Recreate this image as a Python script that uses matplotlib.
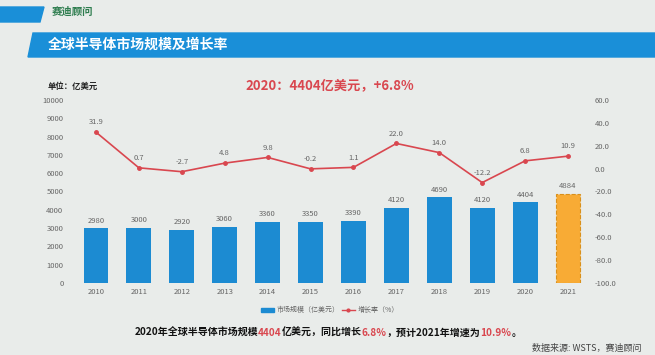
import matplotlib
matplotlib.use('Agg')
import matplotlib.pyplot as plt
from matplotlib.patches import Polygon, Rectangle
from matplotlib.lines import Line2D
from matplotlib.patches import Patch

plt.rcParams['font.family'] = ['Noto Sans CJK SC', 'DejaVu Sans']

years = ['2010', '2011', '2012', '2013', '2014', '2015', '2016',
         '2017', '2018', '2019', '2020', '2021']
market = [2980, 3000, 2920, 3060, 3360, 3350, 3390, 4120, 4690, 4120, 4404, 4884]
growth = [31.9, 0.7, -2.7, 4.8, 9.8, -0.2, 1.1, 22.0, 14.0, -12.2, 6.8, 10.9]

BG = '#e9ecea'
BLUE = '#1c8bd2'
ORANGE = '#f8ab35'
RED = '#d9474f'
GRAY = '#666666'

fig = plt.figure(figsize=(6.55, 3.55), dpi=100, facecolor=BG)

# header decorations
fig.patches.append(Polygon([(0, 1 - 22 / 355), (0, 1 - 7 / 355), (44 / 655, 1 - 7 / 355),
                            (40 / 655, 1 - 22 / 355)],
                           closed=True, transform=fig.transFigure, color='#1a8fd8', zorder=0))
fig.patches.append(Polygon([(28 / 655, 1 - 57 / 355), (33 / 655, 1 - 33 / 355),
                            (1, 1 - 33 / 355), (1, 1 - 57 / 355)],
                           closed=True, transform=fig.transFigure, color='#1a8fd8', zorder=0))
fig.text(52 / 655, 1 - 12 / 355, '赛迪顾问', color='#2e7d4f', fontsize=7.5,
         fontweight='bold', va='center', ha='left')
fig.text(48 / 655, 1 - 45 / 355, '全球半导体市场规模及增长率', color='white', fontsize=10,
         fontweight='bold', va='center', ha='left')
fig.text(330 / 655, 1 - 85 / 355, '2020：4404亿美元，+6.8%', color=RED, fontsize=9.5,
         fontweight='bold', va='center', ha='center')
fig.text(48 / 655, 1 - 86 / 355, '单位：亿美元', color='#222222', fontsize=6,
         fontweight='bold', va='center', ha='left')

ax = fig.add_axes([74.5 / 655, 1 - 283 / 355, 515 / 655, 183 / 355])
ax.set_facecolor('none')
x = list(range(len(years)))
colors = [BLUE] * (len(years) - 1) + [ORANGE]
bars = ax.bar(x, market, width=0.58, color=colors, zorder=2)
bars[-1].set_edgecolor('#d9901a')
bars[-1].set_linestyle('--')
bars[-1].set_linewidth(0.8)
for xi, v in zip(x, market):
    ax.text(xi, v + 200, str(v), ha='center', va='bottom', fontsize=5.5, color=GRAY)
ax.set_xlim(-0.5, len(years) - 0.5)
ax.set_ylim(0, 10000)
ax.set_yticks(range(0, 10001, 1000))
ax.set_xticks(x)
ax.set_xticklabels(years)
ax.tick_params(axis='both', length=0, labelsize=5.5, labelcolor=GRAY)
ax.tick_params(axis='y', pad=8)
for s in ax.spines.values():
    s.set_visible(False)

ax2 = ax.twinx()
ax2.plot(x, growth, color=RED, marker='o', markersize=2.5, linewidth=1.2, zorder=3)
for xi, g in zip(x, growth):
    ax2.text(xi, g + 5, f'{g:.1f}', ha='center', va='bottom', fontsize=5.5, color=GRAY)
ax2.set_ylim(-100, 60)
ax2.set_yticks(range(-100, 61, 20))
ax2.set_yticklabels([f'{v:.1f}' for v in range(-100, 61, 20)])
ax2.tick_params(axis='y', length=0, labelsize=5.5, labelcolor=GRAY, pad=4)
for s in ax2.spines.values():
    s.set_visible(False)

handles = [Patch(color=BLUE), Line2D([], [], color=RED, marker='o', markersize=2, linewidth=1)]
fig.legend(handles, ['市场规模（亿美元）', '增长率（%）'], loc='center',
           bbox_to_anchor=(330 / 655, 1 - 310 / 355), ncol=2, frameon=False,
           fontsize=5, labelcolor=GRAY, handlelength=1.8, handleheight=0.5,
           columnspacing=0.4, handletextpad=0.4)

# bottom summary text with red highlights
parts = [('2020年全球半导体市场规模', '#111111'), ('4404', RED), ('亿美元，同比增长', '#111111'),
         ('6.8%', RED), ('，预计2021年增速为', '#111111'), ('10.9%', RED), ('。', '#111111')]
fig.canvas.draw()
renderer = fig.canvas.get_renderer()
texts = []
for s, c in parts:
    t = fig.text(0, 1 - 333 / 355, s, color=c, fontsize=7.2, fontweight='bold',
                 va='center', ha='left')
    texts.append(t)
total = 0
widths = []
for t in texts:
    w = t.get_window_extent(renderer).width
    widths.append(w)
    total += w
start = 328 - total / 2
for t, w in zip(texts, widths):
    t.set_x(start / 655)
    start += w

fig.text(642 / 655, 1 - 348 / 355, '数据来源: WSTS，赛迪顾问', color='#444444', fontsize=6.5,
         va='center', ha='right')

fig.savefig('out.png', dpi=100, facecolor=BG)
